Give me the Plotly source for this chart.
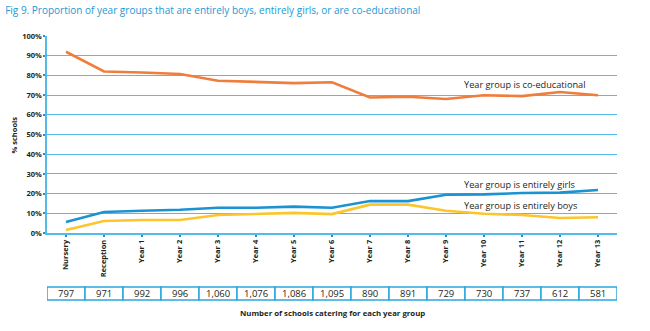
import plotly.graph_objects as go

# Year groups along the x axis
year_groups = ["Nursery", "Reception", "Year 1", "Year 2", "Year 3", "Year 4", "Year 5",
               "Year 6", "Year 7", "Year 8", "Year 9", "Year 10", "Year 11", "Year 12", "Year 13"]

# Percentage of schools for each year group
coed_pct = [92.0, 82.0, 81.5, 80.7, 77.3, 76.8, 76.1, 76.5, 68.8, 69.2, 68.0, 69.9, 69.5, 71.6, 69.9]
girls_pct = [5.6, 10.7, 11.3, 11.8, 12.8, 12.8, 13.4, 12.8, 16.2, 16.2, 19.4, 19.6, 20.3, 20.5, 21.8]
boys_pct = [1.5, 6.1, 6.6, 6.6, 9.1, 9.6, 10.2, 9.6, 14.4, 14.4, 11.3, 9.8, 9.1, 7.6, 8.0]

# Number of schools catering for each year group
school_counts = ["797", "971", "992", "996", "1,060", "1,076", "1,086", "1,095",
                 "890", "891", "729", "730", "737", "612", "581"]

y_ticks = [0, 10, 20, 30, 40, 50, 60, 70, 80, 90, 100]

ORANGE = "#ef7d3c"
BLUE = "#1b92d1"
YELLOW = "#fdc52c"
GRID = "#52bbe8"
TEXT = "#231f20"
FONT = "Open Sans"

fig = go.Figure()
for vals, col in [(coed_pct, ORANGE), (girls_pct, BLUE), (boys_pct, YELLOW)]:
    fig.add_trace(go.Scatter(
        x=year_groups, y=vals, mode="lines",
        line=dict(color=col, width=2.6), showlegend=False, hoverinfo="skip"))

# Series labels placed just above their lines
annotations = [
    dict(y=75.2, text="Year group is co-educational"),
    dict(y=24.6, text="Year group is entirely girls"),
    dict(y=13.9, text="Year group is entirely boys"),
]
for a in annotations:
    fig.add_annotation(x="Year 10", y=a["y"], text=a["text"], xref="x", yref="y",
                       xanchor="left", yanchor="middle", xshift=-22, showarrow=False,
                       font=dict(family=FONT, size=9.2, color=TEXT))

# Table of school counts beneath the axis
for i, (grp, n) in enumerate(zip(year_groups, school_counts)):
    fig.add_shape(type="rect", xref="x", yref="paper",
                  x0=i - 0.5, x1=i + 0.5, y0=-0.340, y1=-0.274,
                  line=dict(color="#2aa6df", width=1.5), fillcolor="white")
    fig.add_annotation(x=grp, y=-0.307, xref="x", yref="paper", text=n,
                       showarrow=False, xanchor="center", yanchor="middle",
                       font=dict(family=FONT, size=9.5, color=TEXT))

fig.add_annotation(x=0.5, y=-0.407, xref="paper", yref="paper",
                   text="<b>Number of schools catering for each year group</b>",
                   showarrow=False, xanchor="center", yanchor="middle",
                   font=dict(family=FONT, size=7.8, color=TEXT))

fig.add_annotation(x=-0.058, y=0.5, xref="paper", yref="paper", xanchor="center",
                   yanchor="middle", text="<b>% schools</b>", textangle=-90, showarrow=False,
                   font=dict(family=FONT, size=7.5, color=TEXT))

fig.update_layout(
    width=650, height=331,
    margin=dict(l=47, r=33, t=36, b=98),
    paper_bgcolor="white", plot_bgcolor="white",
    title=dict(text="Fig 9. Proportion of year groups that are entirely boys, entirely girls, or are co-educational",
               x=0.008, xanchor="left", y=0.967, yanchor="middle",
               font=dict(family=FONT, size=10, color="#1a9ad6")),
    xaxis=dict(
        range=[-0.5, 14.5], tickmode="array", tickvals=year_groups,
        ticktext=[f"<b>{g}</b>" for g in year_groups], tickangle=-90,
        tickfont=dict(family=FONT, size=7.5, color=TEXT),
        showgrid=False, showline=True, linecolor=GRID, linewidth=1.5,
        ticks="outside", ticklen=2, tickcolor=BLUE, tickwidth=1.5, zeroline=False),
    yaxis=dict(
        range=[0, 100], tickvals=y_ticks,
        ticktext=[f"<b>{v}%</b>" for v in y_ticks],
        tickfont=dict(family=FONT, size=7.5, color=TEXT),
        showgrid=True, gridcolor=GRID, gridwidth=1.3,
        showline=True, linecolor=GRID, linewidth=1.5,
        ticks="outside", ticklen=2, tickcolor=BLUE, tickwidth=1.5, zeroline=False),
)

fig.write_html("out.html")
